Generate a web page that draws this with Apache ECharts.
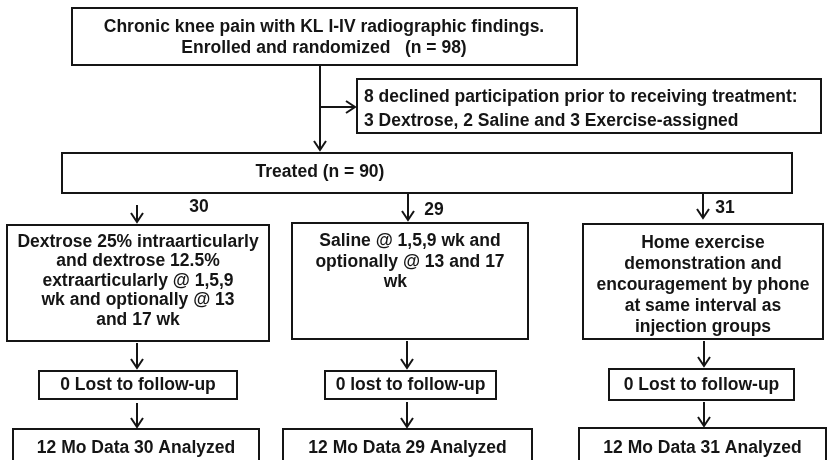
<!DOCTYPE html>
<html>
<head>
<meta charset="utf-8">
<script src="https://cdn.jsdelivr.net/npm/echarts@6/dist/echarts.min.js"></script>
<style>
  html, body { margin: 0; padding: 0; background: #fff; }
  #chart { width: 828px; height: 460px; }
</style>
</head>
<body>
<div id="chart"></div>
<script>
// participant counts
const enrolledN = 98;
const declinedN = 8;
const declinedByArm = [3, 2, 3];
const treatedN = 90;
const allocatedN = [30, 29, 31];
const lostN = [0, 0, 0];
const analyzedN = [30, 29, 31];
const followUpMonths = 12;

// arm wording
const armProtocol = [
  'Dextrose 25% intraarticularly\nand dextrose 12.5%\nextraarticularly @ 1,5,9\nwk and optionally @ 13\nand 17 wk',
  'Saline @ 1,5,9 wk and\noptionally @ 13 and 17\nwk      ',
  'Home exercise\ndemonstration and\nencouragement by phone\nat same interval as\ninjection groups'
];
const lostWord = ['Lost', 'lost', 'Lost'];

// layout (diagram units = pixels on hidden axes)
const topRect = [72, 8, 577, 65];
const declinedRect = [357, 79, 821, 133];
const treatedRect = [62, 153, 792, 193];
const armRects = [[7, 225, 269, 341], [292, 223, 528, 339], [583, 224, 823, 339]];
const armTextY = [281, 262, 285];
const armLineH = [19.5, 20.5, 21];
const lostRects = [[39, 371, 237, 399], [325, 371, 496, 399], [609, 369, 794, 400]];
const finalRects = [[13, 429, 259, 472], [283, 429, 532, 472], [579, 428, 826, 472]];
const countPos = [[199, 207], [434, 210], [725, 208]];
const arrowSegs = [
  [320, 65, 320, 150], [320, 107, 355, 107],
  [137, 205, 137, 222], [408, 193, 408, 220], [703, 193, 703, 218],
  [137, 343, 137, 368], [407, 341, 407, 368], [704, 341, 704, 366],
  [137, 403, 137, 427], [407, 402, 407, 427], [704, 402, 704, 426]
];

const FONT = 'bold 17.5px "Liberation Sans", Arial, sans-serif';
const INK = '#151515';

const nodes = [];
const mid = r => (r[0] + r[2]) / 2;
nodes.push({ rect: topRect, tx: 324, ty: 37.5, lh: 21,
  text: 'Chronic knee pain with KL I-IV radiographic findings.\nEnrolled and randomized   (n = ' + enrolledN + ')' });
nodes.push({ rect: declinedRect, tx: 364, ty: 109, lh: 24, align: 'left',
  text: declinedN + ' declined participation prior to receiving treatment:\n' +
    declinedByArm[0] + ' Dextrose, ' + declinedByArm[1] + ' Saline and ' + declinedByArm[2] + ' Exercise-assigned' });
nodes.push({ rect: treatedRect, tx: 320, ty: 172, text: 'Treated (n = ' + treatedN + ')' });
armRects.forEach((r, i) => nodes.push({ rect: r, tx: mid(r), ty: armTextY[i], lh: armLineH[i], text: armProtocol[i] }));
lostRects.forEach((r, i) => nodes.push({ rect: r, tx: mid(r), ty: 385, text: lostN[i] + ' ' + lostWord[i] + ' to follow-up' }));
finalRects.forEach((r, i) => nodes.push({ rect: r, tx: mid(r), ty: 448, text: followUpMonths + ' Mo Data ' + analyzedN[i] + ' Analyzed' }));

const chart = echarts.init(document.getElementById('chart'));

function renderBox(params, api) {
  const n = nodes[params.dataIndex];
  const p0 = api.coord([n.rect[0], n.rect[1]]);
  const p1 = api.coord([n.rect[2], n.rect[3]]);
  const t = api.coord([n.tx, n.ty]);
  return {
    type: 'group',
    children: [
      { type: 'rect', shape: { x: p0[0], y: p0[1], width: p1[0] - p0[0], height: p1[1] - p0[1] },
        style: { fill: '#fff', stroke: INK, lineWidth: 2 } },
      { type: 'text', style: { x: t[0], y: t[1], text: n.text, font: FONT, fill: INK,
        align: n.align || 'center', verticalAlign: 'middle', lineHeight: n.lh || 20 } }
    ]
  };
}

function renderArrow(params, api) {
  const s = arrowSegs[params.dataIndex];
  const a = api.coord([s[0], s[1]]);
  const b = api.coord([s[2], s[3]]);
  const dx = b[0] - a[0], dy = b[1] - a[1];
  const len = Math.sqrt(dx * dx + dy * dy);
  const ux = dx / len, uy = dy / len;
  const hl = 9, hw = 6;
  const head = [
    [b[0] - ux * hl - uy * hw, b[1] - uy * hl + ux * hw],
    [b[0], b[1]],
    [b[0] - ux * hl + uy * hw, b[1] - uy * hl - ux * hw]
  ];
  return {
    type: 'group',
    children: [
      { type: 'line', shape: { x1: a[0], y1: a[1], x2: b[0], y2: b[1] }, style: { stroke: INK, lineWidth: 2 } },
      { type: 'polyline', shape: { points: head }, style: { stroke: INK, lineWidth: 2, fill: null } }
    ]
  };
}

function renderCount(params, api) {
  const p = api.coord(countPos[params.dataIndex]);
  return { type: 'text', style: { x: p[0], y: p[1], text: String(allocatedN[params.dataIndex]),
    font: FONT, fill: INK, align: 'center', verticalAlign: 'middle' } };
}

chart.setOption({
  animation: false,
  grid: { left: 0, right: 0, top: 0, bottom: 0 },
  xAxis: { type: 'value', min: 0, max: 828, show: false },
  yAxis: { type: 'value', min: 0, max: 460, inverse: true, show: false },
  series: [
    { type: 'custom', renderItem: renderArrow, data: arrowSegs.map((s, i) => i), clip: false, silent: true },
    { type: 'custom', renderItem: renderBox, data: nodes.map((n, i) => i), clip: false, silent: true },
    { type: 'custom', renderItem: renderCount, data: allocatedN.map((v, i) => i), clip: false, silent: true }
  ]
});
</script>
</body>
</html>
